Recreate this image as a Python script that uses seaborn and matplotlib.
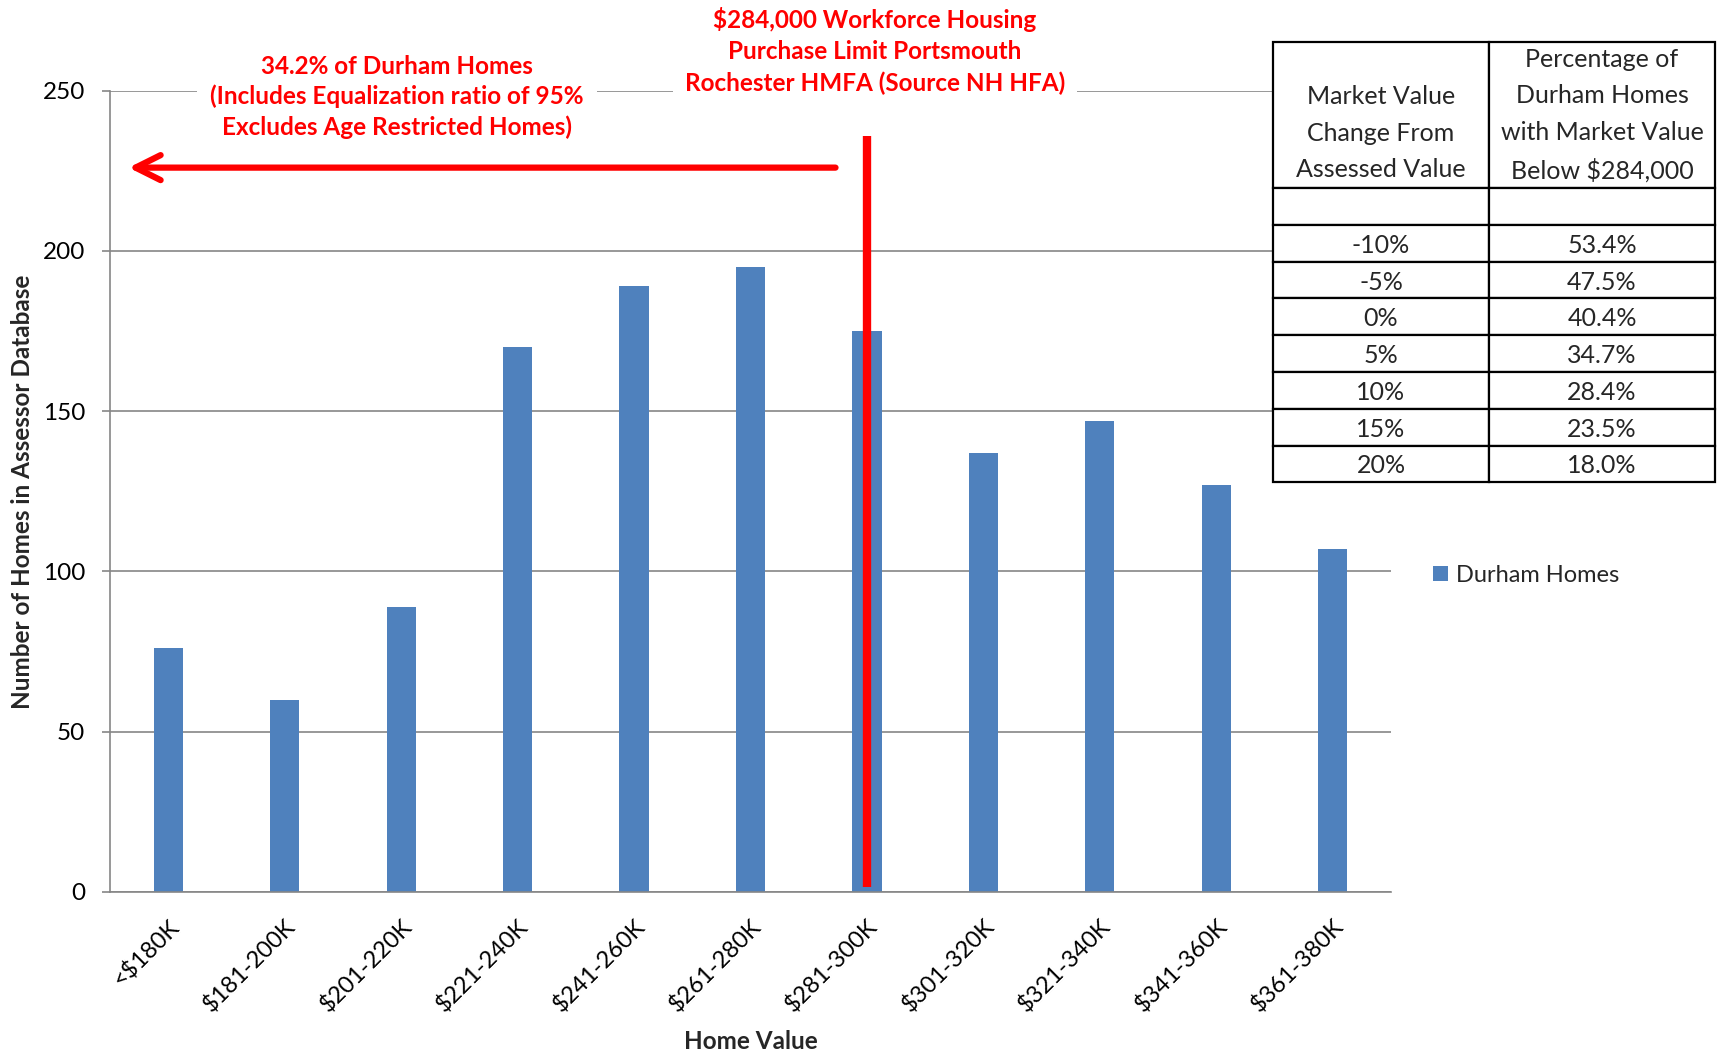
import matplotlib
matplotlib.use('Agg')
import matplotlib.pyplot as plt
import pandas as pd
import seaborn as sns

# home value bins and counts from the assessor database
categories = ['<$180K', '$181-200K', '$201-220K', '$221-240K', '$241-260K', '$261-280K',
              '$281-300K', '$301-320K', '$321-340K', '$341-360K', '$361-380K']
homes = [76, 60, 89, 170, 189, 195, 175, 137, 147, 127, 107]

# side table
change_labels = ['-10%', '-5%', '0%', '5%', '10%', '15%', '20%']
pct_below = ['53.4%', '47.5%', '40.4%', '34.7%', '28.4%', '23.5%', '18.0%']

# workforce housing limit marker and the "below limit" arrow
limit_bin = '$281-300K'
limit_bottom, limit_top = 1.5, 236
arrow_y = 226
arrow_start, arrow_end = 5.73, -0.34

df = pd.DataFrame({'HomeValue': categories, 'Homes': homes})

sns.set_theme(style='white')
plt.rcParams['font.family'] = ['Lato', 'DejaVu Sans']

W, H = 1721, 1052
fig = plt.figure(figsize=(W / 100, H / 100), dpi=100)
ax = fig.add_axes([110 / W, 1 - 892 / H, (1391 - 110) / W, (892 - 90.7) / H])

sns.barplot(data=df, x='HomeValue', y='Homes', color='#4F81BD', saturation=1, width=0.25,
            linewidth=0, label='Durham Homes', ax=ax)

grey = '#868686'
ax.set_xlim(-0.5, len(categories) - 0.5)
ax.set_ylim(0, 250)
ax.set_yticks(range(0, 251, 50))
ax.yaxis.grid(True, color=grey, lw=1.2)
ax.set_axisbelow(True)
for s in ['top', 'right']:
    ax.spines[s].set_visible(False)
for s in ['left', 'bottom']:
    ax.spines[s].set_color(grey)
    ax.spines[s].set_linewidth(1.2)
ax.tick_params(axis='y', left=True, length=6, width=1.2, color=grey, direction='out',
               pad=12, labelsize=17.5, labelcolor='black')
ax.tick_params(axis='x', bottom=False, pad=11, labelsize=17, labelcolor='black')
plt.setp(ax.get_xticklabels(), rotation=45, ha='right', rotation_mode='anchor')

ax.set_xlabel('Home Value', fontsize=17.5, fontweight='bold')
ax.set_ylabel('Number of Homes in Assessor Database', fontsize=17.5, fontweight='bold')
ax.xaxis.set_label_coords(0.5, -0.172)
ax.yaxis.set_label_coords(-0.059, 0.5)

# red limit line and arrow
limit_x = categories.index(limit_bin)
ax.vlines(limit_x, limit_bottom, limit_top, color='red', lw=6, zorder=5)
ax.annotate('', xy=(arrow_end, arrow_y), xytext=(arrow_start, arrow_y),
            arrowprops=dict(arrowstyle='->,head_length=18,head_width=9', mutation_scale=1,
                            color='red', lw=4.5, shrinkA=0, shrinkB=0), zorder=5)

fig.text(397 / W, 1 - 97 / H,
         '34.2% of Durham Homes\n(Includes Equalization ratio of 95%\nExcludes Age Restricted Homes)',
         ha='center', va='center', color='red', fontsize=17.5, fontweight='bold', linespacing=1.37,
         bbox=dict(boxstyle='square,pad=0.55', fc='white', ec='none'))
fig.text(875 / W, 1 - 51 / H,
         '$284,000 Workforce Housing\nPurchase Limit Portsmouth\nRochester HMFA (Source NH HFA)',
         ha='center', va='center', color='red', fontsize=17.5, fontweight='bold', linespacing=1.42,
         bbox=dict(boxstyle='square,pad=0.5', fc='white', ec='none'))

ax.legend(loc='center left', bbox_to_anchor=(1433 / W, 1 - 575.5 / H), bbox_transform=fig.transFigure,
          frameon=False, fontsize=17, handlelength=0.63, handleheight=0.63, handletextpad=0.34,
          borderpad=0, borderaxespad=0)

# table on top of the plot area
tax = fig.add_axes([1273 / W, 1 - 482.3 / H, (1715 - 1273) / W, (482.3 - 42.3) / H])
tax.axis('off')
cell_text = [['\nMarket Value\nChange From\nAssessed Value',
              'Percentage of\nDurham Homes\nwith Market Value\nBelow $284,000'], ['', '']]
cell_text += [[c, p] for c, p in zip(change_labels, pct_below)]
tbl = tax.table(cellText=cell_text, cellLoc='center', colWidths=[216, 226], bbox=[0, 0, 1, 1])
tbl.auto_set_font_size(False)
tbl.set_fontsize(18)
for (r, c), cell in tbl.get_celld().items():
    cell.set_edgecolor('black')
    cell.set_linewidth(1.6)
    cell.set_height(146 if r == 0 else 36.8)
    cell.get_text().set_linespacing(1.71)
    if r > 0:
        cell.get_text().set_va('center_baseline')

fig.savefig('out.png', dpi=100)
